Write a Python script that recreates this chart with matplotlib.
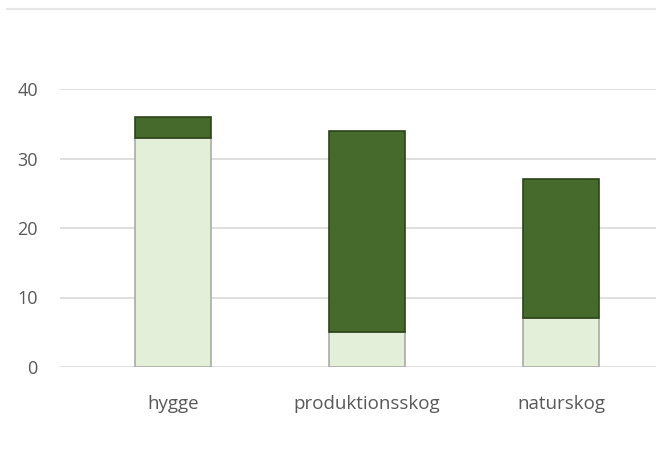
import matplotlib.pyplot as plt
import numpy as np

categories = ['hygge', 'produktionsskog', 'naturskog']
lower = [33, 5, 7]
upper = [3, 29, 20]
yticks = [0, 10, 20, 30, 40]

plt.rcParams['font.family'] = ['Open Sans', 'DejaVu Sans']

fig = plt.figure(figsize=(6.56, 4.57), dpi=100)
ax = fig.add_axes([60 / 656, 90 / 457, 596 / 656, 278 / 457])

x = np.arange(len(categories))
ax.bar(x, lower, width=0.39, color='#e3efd9', edgecolor='#a9aca6', linewidth=1.2, zorder=3)
ax.bar(x, upper, width=0.39, bottom=lower, color='#466a2b', edgecolor='#2c4419',
       linewidth=1.2, zorder=3)

ax.set_xlim(-0.582, 2.49)
ax.set_ylim(0, 40)
ax.set_yticks(yticks)
ax.set_xticks(x)
ax.set_xticklabels(categories, fontsize=13.5, color='#595959')
ax.tick_params(axis='y', labelsize=13, labelcolor='#595959', length=0, pad=16)
ax.tick_params(axis='x', length=0, pad=20)
ax.grid(axis='y', color='#dcdcdc', linewidth=1.3, zorder=0)
for s in ax.spines.values():
    s.set_visible(False)

fig.add_artist(plt.Line2D([0.01, 1], [1 - 9 / 457] * 2, color='#e6e6e6', linewidth=1.5))

plt.savefig('out.png', dpi=100)
